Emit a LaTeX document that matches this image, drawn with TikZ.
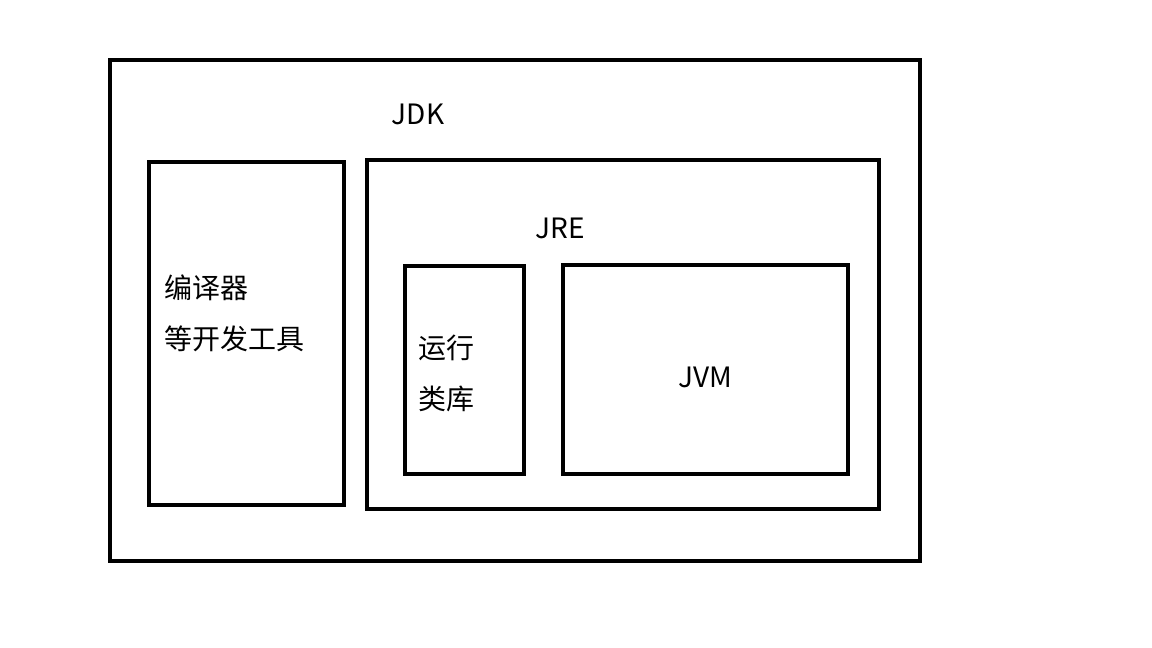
\documentclass[tikz,border=0pt]{standalone}
\usepackage{fontspec}
\setmainfont{Noto Sans CJK SC}
\begin{document}
\begin{tikzpicture}[x=1pt,y=-1pt,box/.style={draw=black,line width=4pt},
 lbl/.style={font=\fontsize{28}{34}\selectfont,inner sep=0pt}]
\useasboundingbox (0,0) rectangle (1152,648);
\draw[box] (110,60) rectangle (920,561);
\draw[box] (149,162) rectangle (344,505);
\draw[box] (367,160) rectangle (879,509);
\draw[box] (405,266) rectangle (524,474);
\draw[box] (563,265) rectangle (848,474);
\node[lbl] (jdk) at (418,114) {JDK};
\node[lbl] (jre) at (560,228) {JRE};
\node[lbl,anchor=west] (t1) at (164,288) {编译器};
\node[lbl,anchor=west] (t2) at (164,339) {等开发工具};
\node[lbl,anchor=west] (t3) at (418,348) {运行};
\node[lbl,anchor=west] (t4) at (418,399) {类库};
\node[lbl] (jvm) at (705,377) {JVM};
\end{tikzpicture}
\end{document}
